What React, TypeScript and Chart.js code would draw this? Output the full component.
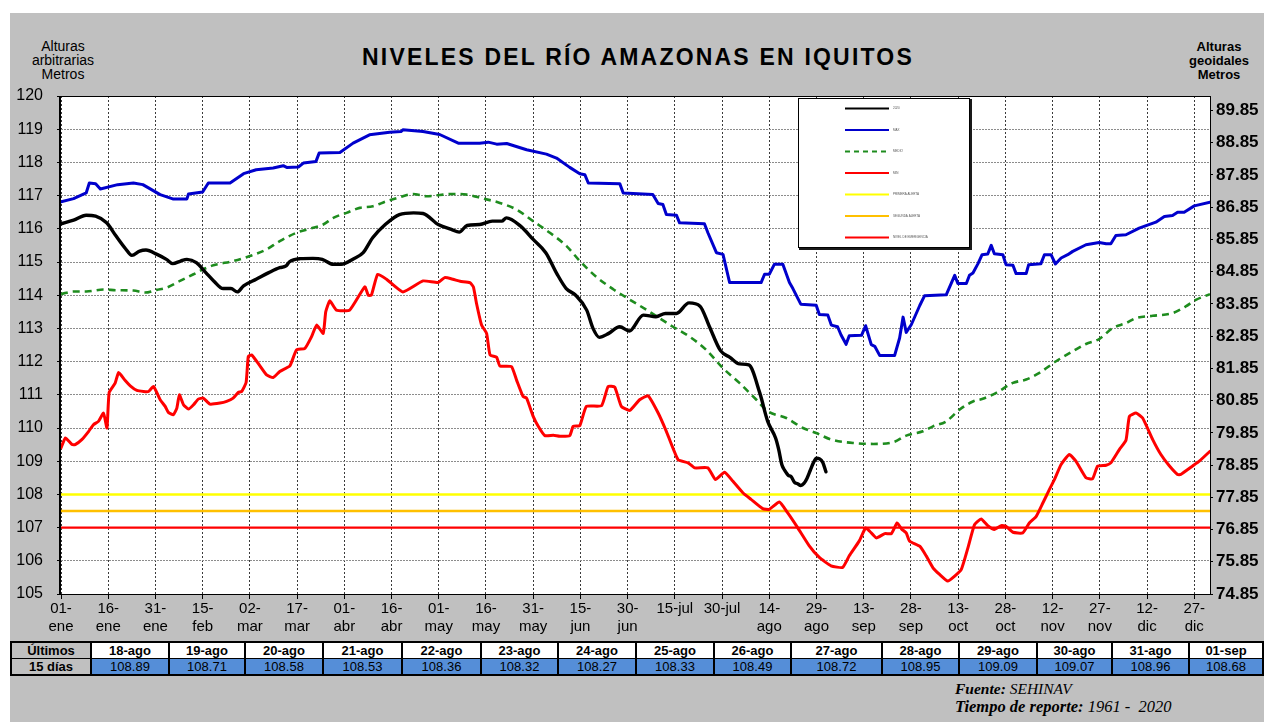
import React, { useEffect, useRef } from 'react';
import { Chart, registerables } from 'chart.js';

Chart.register(...registerables);

const SANS = 'Arial, "Liberation Sans", Helvetica, sans-serif';
const SERIF = '"Times New Roman", "Liberation Serif", serif';

const TITLE = 'NIVELES DEL RÍO AMAZONAS EN IQUITOS';
const LEFT_AXIS_TITLE = ['Alturas', 'arbitrarias', 'Metros'];
const RIGHT_AXIS_TITLE = ['Alturas', 'geoidales', 'Metros'];

const TICK_DAYS = [0, 15, 30, 45, 60, 75, 90, 105, 120, 135, 150, 165, 180, 195, 210, 225, 240, 255, 270, 285, 300, 315, 330, 345, 360];
const TICK_LABELS: string[][] = [
  ['01-', 'ene'], ['16-', 'ene'], ['31-', 'ene'], ['15-', 'feb'], ['02-', 'mar'], ['17-', 'mar'],
  ['01-', 'abr'], ['16-', 'abr'], ['01-', 'may'], ['16-', 'may'], ['31-', 'may'], ['15-', 'jun'],
  ['30-', 'jun'], ['15-jul'], ['30-jul'], ['14-', 'ago'], ['29-', 'ago'], ['13-', 'sep'],
  ['28-', 'sep'], ['13-', 'oct'], ['28-', 'oct'], ['12-', 'nov'], ['27-', 'nov'], ['12-', 'dic'], ['27-', 'dic'],
];
const LEFT_TICKS = [105, 106, 107, 108, 109, 110, 111, 112, 113, 114, 115, 116, 117, 118, 119, 120];
const RIGHT_TICKS = [74.85, 75.85, 76.85, 77.85, 78.85, 79.85, 80.85, 81.85, 82.85, 83.85, 84.85, 85.85, 86.85, 87.85, 88.85, 89.85];

const LEGEND_LABELS = ['2020', 'MAX', 'MEDIO', 'MIN', 'PRIMERA ALERTA', 'SEGUNDA ALERTA', 'NIVEL DE EMERGENCIA'];
const ALERT_1 = 108;
const ALERT_2 = 107.5;
const ALERT_3 = 107;

const TABLE_DATES = ['18-ago', '19-ago', '20-ago', '21-ago', '22-ago', '23-ago', '24-ago', '25-ago', '26-ago', '27-ago', '28-ago', '29-ago', '30-ago', '31-ago', '01-sep'];
const TABLE_VALUES = [108.89, 108.71, 108.58, 108.53, 108.36, 108.32, 108.27, 108.33, 108.49, 108.72, 108.95, 109.09, 109.07, 108.96, 108.68];
const TABLE_DAYS = [229, 230, 231, 232, 233, 234, 235, 236, 237, 238, 239, 240, 241, 242, 243];

// [day of year, level]
const SERIES_2020: number[][] = [
  [0, 116.15], [4, 116.26], [8, 116.41], [11, 116.38], [14.5, 116.18], [17.5, 115.78], [20.5, 115.4], [22.5, 115.2],
  [25, 115.33], [27, 115.36], [30.5, 115.23], [33.5, 115.08], [35.5, 114.95], [38, 115.03], [40, 115.08], [43, 114.98],
  [46, 114.68], [48.5, 114.43], [51.5, 114.2], [54, 114.2], [56, 114.1], [58, 114.28], [62, 114.48], [66, 114.68],
  [69.5, 114.83], [71.5, 114.88], [72.5, 115.0], [76, 115.1], [80, 115.11], [83, 115.08], [86.5, 114.93], [89, 114.93],
  [93, 115.1], [96, 115.28], [99, 115.73], [103, 116.13], [107.5, 116.43], [112, 116.48], [115, 116.46], [120, 116.12],
  [124, 115.98], [126.5, 115.9], [129, 116.1], [133, 116.13], [137, 116.23], [140, 116.23], [141.5, 116.33], [146, 116.08],
  [150, 115.68], [154, 115.28], [157.5, 114.65], [160.5, 114.2], [163.5, 114.0], [167, 113.55], [169, 113.0], [171, 112.73],
  [174, 112.85], [177.5, 113.05], [180.5, 112.92], [185, 113.4], [189, 113.35], [192, 113.45], [195.5, 113.45], [199.5, 113.77],
  [203, 113.67], [206, 113.05], [209.5, 112.33], [212.5, 112.13], [215.5, 111.93], [218.5, 111.9], [222, 111.05], [224.5, 110.2],
  [227, 109.7], [228, 109.35],
];

const SERIES_MAX: number[][] = [
  [0, 116.81], [4, 116.91], [8, 117.08], [9, 117.38], [11, 117.36], [12.5, 117.2], [18, 117.33], [23, 117.38], [26, 117.33],
  [31.5, 117.03], [35.5, 116.9], [40, 116.9], [40.5, 117.05], [45, 117.11], [46.8, 117.38], [53.7, 117.38], [58, 117.66],
  [62, 117.78], [67.4, 117.83], [70.6, 117.9], [71.7, 117.85], [75.4, 117.86], [77, 117.98], [81, 118.03], [82, 118.28],
  [88.6, 118.3], [92.8, 118.58], [98, 118.83], [104.4, 118.91], [108, 118.93], [108.6, 118.98], [115, 118.93], [120.3, 118.84],
  [126.2, 118.58], [133, 118.58], [135.7, 118.61], [138.4, 118.55], [141.6, 118.57], [147.9, 118.38], [154.2, 118.25],
  [157.4, 118.13], [161.6, 117.85], [164.8, 117.66], [166.4, 117.63], [167.5, 117.38], [177.5, 117.36], [178.6, 117.08],
  [188, 117.03], [189.7, 116.76], [191.2, 116.73], [192.3, 116.43], [195.5, 116.41], [196.5, 116.18], [204.4, 116.15],
  [205.5, 115.88], [208.2, 115.28], [210.3, 115.23], [212.4, 114.38], [222.4, 114.38], [223.5, 114.63], [225, 114.63],
  [226.6, 114.93], [229.3, 114.93], [231.4, 114.38], [232.5, 114.2], [235, 113.73], [239.9, 113.7], [240.9, 113.42],
  [243.6, 113.4], [244.7, 113.1], [246.7, 113.05], [247.8, 112.8], [249.4, 112.52], [250.4, 112.78], [254.3, 112.79],
  [255.6, 113.08], [257.4, 112.51], [258.5, 112.46], [260.1, 112.18], [264.8, 112.18], [266.4, 112.71], [267.5, 113.34],
  [268.5, 112.88], [270.1, 113.11], [272.8, 113.69], [274.3, 113.98], [281.2, 114.01], [283.9, 114.6], [284.9, 114.35],
  [287.6, 114.35], [288.6, 114.6], [289.7, 114.67], [291.3, 114.95], [292.6, 115.22], [294.4, 115.24], [295.5, 115.5],
  [296.5, 115.25], [299.2, 115.22], [300.2, 114.92], [302.4, 114.9], [303.4, 114.65], [306.6, 114.65], [307.4, 114.92],
  [311.3, 114.95], [312.4, 115.22], [314.5, 115.22], [315.9, 114.94], [317.7, 115.12], [319.8, 115.22], [321.4, 115.32],
  [325.6, 115.52], [329.8, 115.59], [332, 115.55], [333.5, 115.55], [335.1, 115.8], [338.3, 115.82], [342.5, 116.02],
  [347.8, 116.2], [350.5, 116.37], [353.1, 116.4], [354.7, 116.5], [356.8, 116.5], [360, 116.69], [365, 116.8],
];

const SERIES_MEDIO: number[][] = [
  [0, 114.03], [4, 114.11], [8, 114.11], [13.5, 114.17], [17.7, 114.15], [23, 114.14], [26.7, 114.08], [30.4, 114.16],
  [33.6, 114.23], [37.8, 114.43], [42.1, 114.63], [45.2, 114.78], [48.4, 114.9], [54.8, 115.03], [60, 115.18], [65.3, 115.38],
  [69.5, 115.63], [74.8, 115.88], [80.1, 116.03], [83.3, 116.13], [86.5, 116.33], [90.7, 116.48], [94.9, 116.63], [99.1, 116.68],
  [103.4, 116.83], [107.6, 116.95], [111.8, 117.05], [116.1, 116.98], [120.3, 117.02], [124.6, 117.05], [128.9, 117.03],
  [134.2, 116.91], [139.4, 116.78], [144.7, 116.58], [150, 116.23], [155.3, 115.88], [160.6, 115.48], [164.8, 115.03],
  [170.1, 114.55], [175.4, 114.18], [179.6, 113.93], [187, 113.5], [194.4, 113.05], [199.7, 112.75], [205, 112.35],
  [210.3, 111.8], [215.6, 111.35], [220.9, 110.85], [224.6, 110.5], [230.4, 110.3], [235.7, 110.0], [239.9, 109.85],
  [244.7, 109.65], [251.6, 109.55], [258, 109.52], [264.3, 109.57], [268.5, 109.77], [273.8, 109.9], [277, 110.05],
  [281.2, 110.2], [285.4, 110.55], [289.7, 110.8], [292.8, 110.88], [297.1, 111.06], [302.4, 111.36], [306.6, 111.46],
  [310.8, 111.66], [316.1, 112.01], [321.4, 112.31], [325.6, 112.53], [329.8, 112.68], [334.1, 113.01], [338.3, 113.16],
  [341.5, 113.31], [346.8, 113.38], [353.1, 113.46], [357.3, 113.66], [360.5, 113.86], [365, 114.03],
];

const SERIES_MIN: number[][] = [
  [0, 109.4], [1.4, 109.7], [3.5, 109.5], [4.5, 109.5], [6.6, 109.65], [8.8, 109.9], [10.3, 110.1], [11.9, 110.2],
  [13.5, 110.45], [14.6, 110.0], [15.3, 111.07], [17.2, 111.35], [18.3, 111.67], [20.4, 111.43], [22, 111.27], [24.1, 111.13],
  [26.2, 111.1], [27.8, 111.1], [29.4, 111.25], [31.5, 110.85], [33.1, 110.65], [34.1, 110.47], [35.7, 110.4], [36.8, 110.6],
  [37.6, 111.0], [38.9, 110.7], [40.5, 110.57], [42.1, 110.7], [43.6, 110.87], [45.2, 110.9], [47.3, 110.72], [50.5, 110.75],
  [52.6, 110.8], [54.7, 110.9], [56.3, 111.07], [57.4, 111.1], [58.8, 111.37], [59.5, 112.15], [60.6, 112.2], [63.2, 111.87],
  [65.3, 111.6], [67.4, 111.52], [69.5, 111.7], [72.7, 111.87], [74.8, 112.35], [77.5, 112.4], [79.6, 112.75], [81.2, 113.1],
  [83.3, 112.85], [84.1, 113.5], [85.4, 113.83], [87.5, 113.55], [91.7, 113.55], [96.5, 114.25], [97.6, 114.0], [98.6, 114.0],
  [100.6, 114.63], [103.4, 114.48], [108.6, 114.1], [115, 114.43], [119.8, 114.38], [121.9, 114.53], [124.5, 114.48],
  [126.8, 114.42], [129.9, 114.38], [131, 114.25], [132, 113.75], [133.6, 113.1], [135.2, 112.85], [136.3, 112.2],
  [138.4, 112.13], [139.4, 111.87], [143.1, 111.85], [144.7, 111.45], [146.8, 110.95], [147.9, 110.9], [150, 110.35],
  [151.6, 110.05], [153.7, 109.77], [156.4, 109.78], [158.5, 109.75], [161.6, 109.77], [162.7, 110.05], [164.8, 110.07],
  [166.9, 110.65], [171.7, 110.67], [173.8, 111.25], [175.9, 111.23], [178, 110.65], [180.7, 110.53], [183.8, 110.85],
  [186.5, 110.97], [189.7, 110.45], [192.3, 109.9], [196, 109.05], [199.2, 108.95], [201.3, 108.8], [205.5, 108.8],
  [207.9, 108.45], [210.8, 108.67], [213.4, 108.4], [216.6, 108.05], [219.2, 107.85], [222.9, 107.57], [225, 107.55],
  [228.2, 107.77], [230.8, 107.45], [234, 107.0], [237.7, 106.45], [240.9, 106.1], [244.6, 105.85], [248.3, 105.8],
  [250.4, 106.15], [253.6, 106.6], [255.6, 106.99], [256.9, 106.89], [259, 106.69], [261.7, 106.82], [263.8, 106.82],
  [265.6, 107.14], [267, 106.96], [268.5, 106.84], [269.6, 106.59], [272.8, 106.44], [274.9, 106.14], [277, 105.79],
  [279.1, 105.59], [281.7, 105.39], [283.9, 105.54], [286, 105.74], [288.1, 106.39], [290.2, 107.09], [292.3, 107.26],
  [294.4, 107.06], [296.5, 106.94], [298.7, 107.06], [300.2, 107.04], [302.4, 106.86], [305.5, 106.84], [307.6, 107.14],
  [309.8, 107.34], [311.9, 107.74], [314, 108.15], [315.6, 108.45], [317.7, 108.9], [320.3, 109.2], [322.4, 109.0],
  [325.6, 108.5], [327.7, 108.47], [329.3, 108.85], [332, 108.88], [333.5, 108.95], [336.2, 109.35], [338.3, 109.63],
  [339.4, 110.35], [341.5, 110.45], [343.6, 110.3], [346.8, 109.65], [349.4, 109.2], [352, 108.87], [354.7, 108.6],
  [355.7, 108.6], [359.4, 108.85], [361.6, 109.0], [365, 109.3],
];

const X_MIN = 0;
const X_MAX = 365;

const COL_WIDTHS = [80, 78, 76, 78, 79, 79, 77, 78, 78, 77, 91, 77, 78, 75, 77, 74];

const toPts = (arr: number[][]) => arr.map(([x, y]) => ({ x, y }));

const framePlugin = {
  id: 'frame',
  beforeDraw(chart: any) {
    const { ctx, chartArea: a } = chart;
    ctx.save();
    ctx.fillStyle = '#ffffff';
    ctx.fillRect(a.left, a.top, a.right - a.left, a.bottom - a.top);
    ctx.restore();
  },
  afterDatasetsDraw(chart: any) {
    const { ctx, chartArea: a } = chart;
    ctx.save();
    ctx.strokeStyle = '#000';
    ctx.lineWidth = 1;
    ctx.strokeRect(Math.round(a.left) - 0.5, Math.round(a.top) + 0.5, Math.round(a.right - a.left) + 1, Math.round(a.bottom - a.top));
    ctx.fillStyle = '#000';
    ctx.fillRect(Math.round(a.left) - 2, Math.round(a.top), 2, Math.round(a.bottom - a.top) + 1);
    ctx.restore();
  },
};

const boxLegendPlugin = {
  id: 'boxLegend',
  afterDraw(chart: any) {
    const { ctx, chartArea: a } = chart;
    const bx = Math.round(a.left) + 737;
    const by = Math.round(a.top) + 2;
    const bw = 171;
    const bh = 149;
    ctx.save();
    ctx.fillStyle = '#ffffff';
    ctx.fillRect(bx, by, bw, bh);
    ctx.fillStyle = '#1a1a1a';
    ctx.fillRect(bx + bw, by + 1, 3, bh + 2);
    ctx.fillRect(bx + 1, by + bh, bw + 2, 3);
    ctx.strokeStyle = '#000';
    ctx.lineWidth = 1;
    ctx.strokeRect(bx + 0.5, by + 0.5, bw, bh);
    chart.data.datasets.forEach((ds: any, i: number) => {
      const y = by + 10.5 + i * 21.5;
      ctx.strokeStyle = ds.borderColor;
      ctx.lineWidth = 2;
      ctx.setLineDash(ds.borderDash ? [5, 4] : []);
      ctx.beginPath();
      ctx.moveTo(bx + 47, y);
      ctx.lineTo(bx + 91, y);
      ctx.stroke();
      ctx.setLineDash([]);
      ctx.fillStyle = '#555';
      ctx.font = '3px ' + SANS;
      ctx.textBaseline = 'middle';
      ctx.textAlign = 'left';
      ctx.fillText(ds.label, bx + 95, y);
    });
    ctx.restore();
  },
};

function RiverChart() {
  const ref = useRef<HTMLCanvasElement | null>(null);
  useEffect(() => {
    if (!ref.current) return;
    const series2020 = SERIES_2020.concat(TABLE_DAYS.map((d, i) => [d, TABLE_VALUES[i]]));
    const flat = (v: number) => [{ x: X_MIN, y: v }, { x: X_MAX, y: v }];
    const common = { pointRadius: 0, pointHoverRadius: 0, fill: false, borderJoinStyle: 'round', borderCapStyle: 'round' };
    const chart = new Chart(ref.current, {
      type: 'line',
      data: {
        datasets: [
          { ...common, label: LEGEND_LABELS[0], data: toPts(series2020), borderColor: '#000000', borderWidth: 3.4, cubicInterpolationMode: 'monotone' },
          { ...common, label: LEGEND_LABELS[1], data: toPts(SERIES_MAX), borderColor: '#0000cc', borderWidth: 3, tension: 0 },
          { ...common, label: LEGEND_LABELS[2], data: toPts(SERIES_MEDIO), borderColor: '#1e8c1e', borderWidth: 2.6, borderDash: [7, 5], cubicInterpolationMode: 'monotone', borderCapStyle: 'butt' },
          { ...common, label: LEGEND_LABELS[3], data: toPts(SERIES_MIN), borderColor: '#ff0000', borderWidth: 3, tension: 0.15 },
          { ...common, label: LEGEND_LABELS[4], data: flat(ALERT_1), borderColor: '#ffff00', borderWidth: 2.5 },
          { ...common, label: LEGEND_LABELS[5], data: flat(ALERT_2), borderColor: '#ffc000', borderWidth: 2.5 },
          { ...common, label: LEGEND_LABELS[6], data: flat(ALERT_3), borderColor: '#ff0000', borderWidth: 2.2 },
        ] as any,
      },
      options: {
        responsive: false,
        animation: false,
        events: [],
        layout: { padding: { top: 83, left: 0, right: 0, bottom: 0 } },
        plugins: { legend: { display: false }, tooltip: { enabled: false }, title: { display: false } },
        scales: {
          x: {
            type: 'linear',
            min: X_MIN,
            max: X_MAX,
            afterBuildTicks: (s: any) => { s.ticks = TICK_DAYS.map((v) => ({ value: v })); },
            afterFit: (s: any) => { s.height = 47; },
            ticks: {
              autoSkip: false, maxRotation: 0, minRotation: 0, padding: 1, color: '#000',
              font: { family: SANS, size: 15, lineHeight: 1.2 },
              callback: (_v: any, i: number) => TICK_LABELS[i],
            },
            grid: { color: '#3a3a3a', tickColor: '#000', tickLength: 5, lineWidth: 1 },
            border: { display: false, dash: [2, 2] },
          },
          y: {
            position: 'left',
            min: 105,
            max: 120,
            afterBuildTicks: (s: any) => { s.ticks = LEFT_TICKS.map((v) => ({ value: v })); },
            afterFit: (s: any) => { s.width = 51; },
            ticks: { padding: 14, color: '#000', font: { family: SANS, size: 16 }, callback: (v: any) => String(v) },
            grid: { color: '#8c8c8c', tickColor: '#000', tickLength: 4, lineWidth: 1 },
            border: { display: false, dash: [2, 1] },
          },
          y2: {
            position: 'right',
            min: 74.85,
            max: 90.3,
            afterBuildTicks: (s: any) => { s.ticks = RIGHT_TICKS.map((v) => ({ value: v })); },
            afterFit: (s: any) => { s.width = 54; },
            ticks: { padding: 3, color: '#000', font: { family: SANS, size: 17, weight: 'bold' }, callback: (v: any) => Number(v).toFixed(2) },
            grid: { drawOnChartArea: false, tickLength: 3, color: '#000' },
            border: { display: false },
          },
        },
      } as any,
      plugins: [framePlugin, boxLegendPlugin],
    });
    return () => chart.destroy();
  }, []);
  return <canvas ref={ref} width={1254} height={628} style={{ position: 'absolute', left: 0, top: 0, width: 1254, height: 628 }} />;
}

function LastDaysTable() {
  const cellBase: React.CSSProperties = {
    borderLeft: '2px solid #000', borderRight: '2px solid #000', padding: 0, height: 15,
    textAlign: 'center', fontSize: 13, lineHeight: '15px', fontFamily: SANS, color: '#000', whiteSpace: 'nowrap', overflow: 'hidden',
  };
  return (
    <table style={{ position: 'absolute', left: 0, top: 628, width: 1252, borderCollapse: 'collapse', tableLayout: 'fixed', border: '2px solid #000' }}>
      <colgroup>
        {COL_WIDTHS.map((w, i) => <col key={i} style={{ width: w }} />)}
      </colgroup>
      <tbody>
        <tr>
          <td style={{ ...cellBase, background: '#c0c0c0', fontWeight: 'bold', borderBottom: '1px solid #000' }}>Últimos</td>
          {TABLE_DATES.map((d) => (
            <td key={d} style={{ ...cellBase, background: '#ffffff', fontWeight: 'bold', borderBottom: '1px solid #000' }}>{d}</td>
          ))}
        </tr>
        <tr>
          <td style={{ ...cellBase, background: '#c0c0c0', fontWeight: 'bold' }}>15 días</td>
          {TABLE_VALUES.map((v, i) => (
            <td key={i} style={{ ...cellBase, background: '#558ed8' }}>{v.toFixed(2)}</td>
          ))}
        </tr>
      </tbody>
    </table>
  );
}

export default function App() {
  return (
    <div style={{ position: 'absolute', left: 10, top: 13, width: 1254, height: 709, background: '#c0c0c0', overflow: 'hidden', fontFamily: SANS }}>
      <div style={{ position: 'absolute', left: 0, top: 30, width: 1256, textAlign: 'center', fontSize: 23, fontWeight: 'bold', color: '#000', lineHeight: '28px', letterSpacing: '2.2px' }}>
        {TITLE}
      </div>
      <div style={{ position: 'absolute', left: 3, top: 27, width: 100, textAlign: 'center', fontSize: 14, lineHeight: '13.8px', color: '#000' }}>
        {LEFT_AXIS_TITLE.map((t) => <div key={t}>{t}</div>)}
      </div>
      <div style={{ position: 'absolute', left: 1159, top: 27, width: 100, textAlign: 'center', fontSize: 13, lineHeight: '14px', fontWeight: 'bold', color: '#000' }}>
        {RIGHT_AXIS_TITLE.map((t) => <div key={t}>{t}</div>)}
      </div>
      <RiverChart />
      <LastDaysTable />
      <div style={{ position: 'absolute', left: 945, top: 667, fontFamily: SERIF, fontSize: 16.5, lineHeight: '18px', color: '#000', fontStyle: 'italic', whiteSpace: 'nowrap' }}>
        <div style={{ fontSize: 15.5 }}><b>Fuente:</b> SEHINAV</div>
        <div><b>Tiempo de reporte:</b> 1961 -&nbsp; 2020</div>
      </div>
    </div>
  );
}
